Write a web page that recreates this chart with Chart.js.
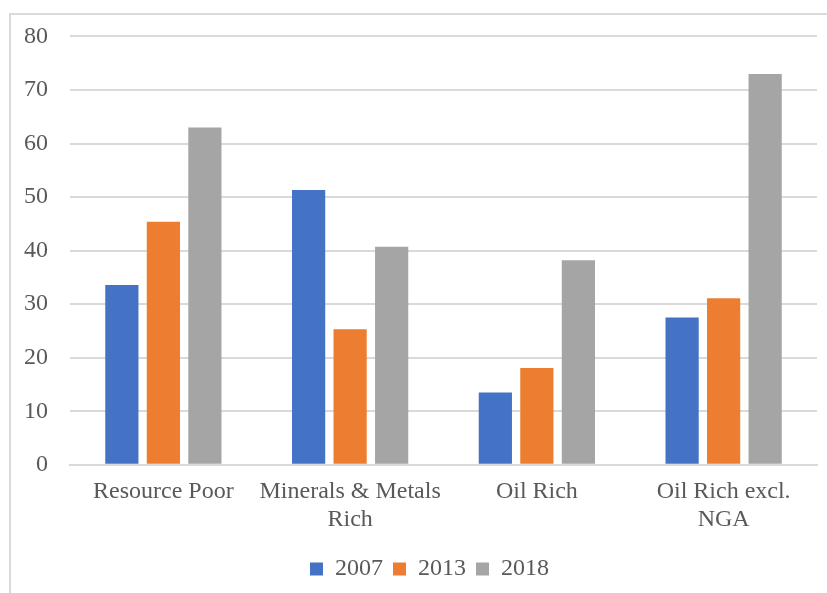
<!DOCTYPE html>
<html>
<head>
<meta charset="utf-8">
<script src="https://cdn.jsdelivr.net/npm/chart.js@4"></script>
<style>
  html, body { margin: 0; padding: 0; background: #fff; overflow: hidden; }
  #frame { position: absolute; left: 9px; top: 13px; width: 900px; height: 700px; border-top: 2px solid #d9d9d9; border-left: 2px solid #d9d9d9; }
  #c { position: absolute; left: 0; top: 0; }
</style>
</head>
<body>
<div id="frame"></div>
<canvas id="c" width="827" height="593"></canvas>
<script>
const categories = ["Resource Poor", ["Minerals & Metals", "Rich"], "Oil Rich", ["Oil Rich excl.", "NGA"]];
const seriesNames = ["2007", "2013", "2018"];
const values2007 = [33.6, 51.3, 13.5, 27.5];
const values2013 = [45.4, 25.3, 18.1, 31.1];
const values2018 = [63.0, 40.7, 38.2, 73.0];
const colors = ["#4472C4", "#ED7D31", "#A5A5A5"];
const yTicks = [0, 10, 20, 30, 40, 50, 60, 70, 80];

const FONT = "'Liberation Serif', 'Times New Roman', serif";
const TEXT = "#595959";

const legendShift = {
  id: 'legendShift',
  afterLayout(chart) {
    const lg = chart.legend;
    if (lg) { lg.left += 16; lg.right += 16; }
  }
};

new Chart(document.getElementById('c'), {
  type: 'bar',
  data: {
    labels: categories,
    datasets: [values2007, values2013, values2018].map((v, i) => ({
      label: seriesNames[i],
      data: v,
      backgroundColor: colors[i],
      borderWidth: 0,
      categoryPercentage: 0.667,
      barPercentage: 0.8
    }))
  },
  options: {
    responsive: false,
    animation: false,
    layout: { padding: { left: 10, right: 10, top: 31, bottom: 2 } },
    plugins: {
      tooltip: { enabled: false },
      legend: {
        position: 'bottom',
        labels: {
          font: { family: FONT, size: 24 },
          color: TEXT,
          boxWidth: 13,
          boxHeight: 13,
          padding: 10
        }
      }
    },
    scales: {
      x: {
        grid: { display: false, drawTicks: false },
        border: { display: true, color: '#d9d9d9', width: 2 },
        ticks: { font: { family: FONT, size: 24, lineHeight: 1.17 }, color: TEXT, padding: 13, maxRotation: 0, autoSkip: false }
      },
      y: {
        min: 0, max: 80,
        afterBuildTicks: (axis) => { axis.ticks = yTicks.map(v => ({ value: v })); },
        afterFit: (axis) => { axis.width = 60; },
        grid: { color: '#d9d9d9', lineWidth: 2, drawTicks: false },
        border: { display: false },
        ticks: { font: { family: FONT, size: 24 }, color: TEXT, padding: 22 }
      }
    }
  },
  plugins: [legendShift]
});
</script>
</body>
</html>
